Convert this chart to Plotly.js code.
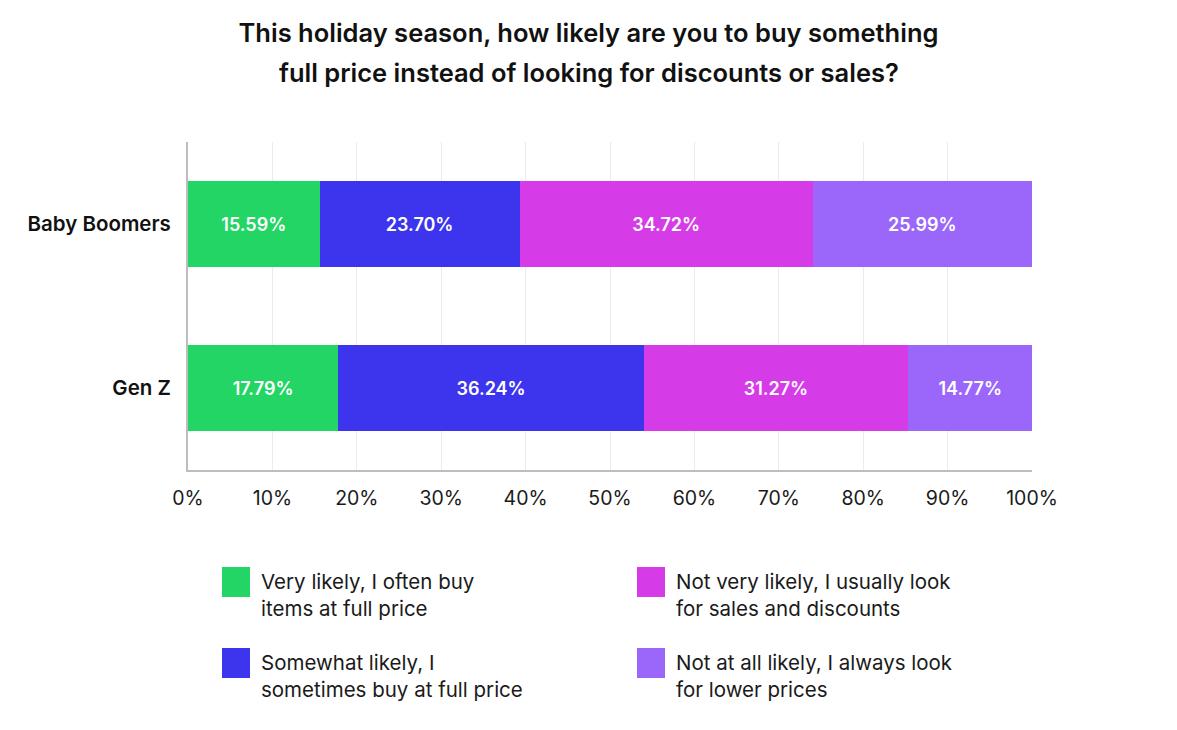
<!DOCTYPE html>
<html>
<head>
<meta charset="utf-8">
<script src="https://cdn.plot.ly/plotly-3.0.1.min.js"></script>
<style>html,body{margin:0;padding:0;background:#fff;}#chart{width:1177px;height:730px;}</style>
</head>
<body>
<div id="chart"></div>
<script>
const categories = ["Gen Z", "Baby Boomers"];
const seriesNames = ["Very likely, I often buy<br>items at full price", "Somewhat likely, I<br>sometimes buy at full price", "Not very likely, I usually look<br>for sales and discounts", "Not at all likely, I always look<br>for lower prices"];
const veryLikely = [17.79, 15.59];
const somewhatLikely = [36.24, 23.70];
const notVeryLikely = [31.27, 34.72];
const notAtAllLikely = [14.77, 25.99];
const colors = ["#22d564", "#3d35ee", "#d53ce8", "#9b66fa"];
const xTickVals = [0, 10, 20, 30, 40, 50, 60, 70, 80, 90, 100];
const xTickText = ["0%", "10%", "20%", "30%", "40%", "50%", "60%", "70%", "80%", "90%", "100%"];
const titleLines = ["This holiday season, how likely are you to buy something", "full price instead of looking for discounts or sales?"];

const values = [veryLikely, somewhatLikely, notVeryLikely, notAtAllLikely];
const font = "Inter, 'Noto Sans', sans-serif";

const traces = values.map((v, i) => ({
  type: "bar",
  orientation: "h",
  y: categories,
  x: v,
  name: seriesNames[i],
  marker: {color: colors[i], line: {width: 0}},
  text: v.map(d => d.toFixed(2) + "%"),
  textposition: "inside",
  insidetextanchor: "middle",
  textfont: {color: "#ffffff", size: 18, family: font, weight: 600},
  showlegend: false,
  hoverinfo: "skip"
}));

const W = 1177, H = 730;
const PL = 188, PW = 844, PT = 142, PB = 470, PH = PB - PT;

// custom legend: 2 columns x 2 rows (col1 = green, blue; col2 = magenta, purple)
const legendPos = [
  {col: 0, row: 0}, {col: 0, row: 1}, {col: 1, row: 0}, {col: 1, row: 1}
];
const colX = [222, 637];
const rowY = [567, 648];
const shapes = [];
const annotations = [];
legendPos.forEach((p, i) => {
  const x0 = colX[p.col], y0 = rowY[p.row];
  shapes.push({
    type: "rect", xref: "paper", yref: "paper",
    x0: (x0 - PL) / PW, x1: (x0 + 28 - PL) / PW,
    y0: (PB - y0) / PH, y1: (PB - y0 - 30) / PH,
    fillcolor: colors[i], line: {width: 0}
  });
  annotations.push({
    xref: "paper", yref: "paper",
    x: (x0 + 37 - PL) / PW, y: (PB - y0) / PH,
    xanchor: "left", yanchor: "top", align: "left",
    text: seriesNames[i], showarrow: false,
    font: {family: font, size: 20.5, color: "#1a1a1a"}
  });
});
// second title line (wider line spacing than Plotly's title allows)
annotations.push({
  xref: "paper", yref: "paper",
  x: (W / 2 - PL) / PW, y: (PB - 73) / PH,
  xanchor: "center", yanchor: "middle",
  text: titleLines[1], showarrow: false,
  font: {family: font, size: 25.5, color: "#111111", weight: 600}
});

const layout = {
  width: W, height: H,
  margin: {l: PL, r: W - PL - PW, t: PT, b: H - PB},
  paper_bgcolor: "#ffffff", plot_bgcolor: "#ffffff",
  barmode: "stack",
  bargap: 0.47,
  title: {
    text: titleLines[0],
    x: 0.5, xanchor: "center", xref: "container",
    yref: "container", y: 1 - 33 / H, yanchor: "middle",
    font: {family: font, size: 25.5, color: "#111111", weight: 600}
  },
  xaxis: {
    range: [0, 100],
    tickvals: xTickVals, ticktext: xTickText,
    showgrid: true, gridcolor: "#ebebeb", gridwidth: 1,
    zeroline: false,
    showline: true, linecolor: "#bdbdbd", linewidth: 2,
    ticks: "", ticklabelstandoff: 10,
    tickfont: {family: font, size: 19.5, color: "#1a1a1a"},
    fixedrange: true
  },
  yaxis: {
    categoryorder: "array", categoryarray: categories,
    range: [-0.5, 1.5],
    showgrid: false, zeroline: false,
    showline: true, linecolor: "#bdbdbd", linewidth: 2,
    ticks: "", ticklabelstandoff: 11,
    tickfont: {family: font, size: 20.5, color: "#111111", weight: 600},
    fixedrange: true
  },
  uniformtext: {mode: "show", minsize: 10},
  shapes: shapes,
  annotations: annotations,
  showlegend: false
};

Plotly.newPlot("chart", traces, layout, {displayModeBar: false, staticPlot: true});
</script>
</body>
</html>
